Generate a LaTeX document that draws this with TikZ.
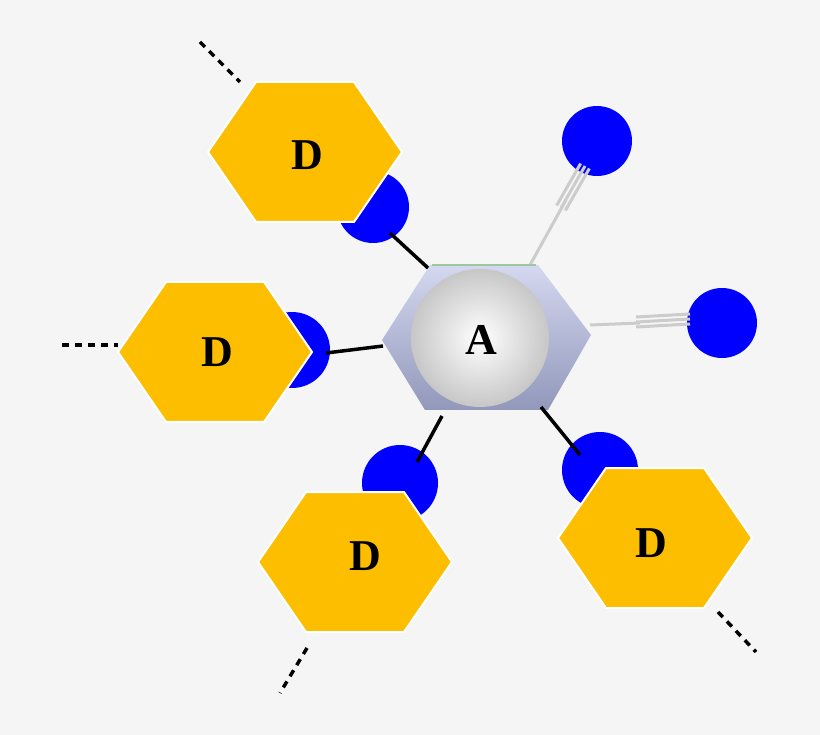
\documentclass[tikz,border=0pt]{standalone}
\usepackage{fontspec}
\setmainfont{Liberation Serif}
\usetikzlibrary{calc}
\definecolor{gold}{HTML}{FDBE00}
\definecolor{bg}{HTML}{F5F5F5}
\definecolor{hexA}{HTML}{A8B0E0}
\tikzset{
 ball/.style={circle,fill=blue,inner sep=0pt},
 bond/.style={line width=3.5pt,black},
 dbond/.style={line width=3.5pt,black,dash pattern=on 7pt off 6pt},
 gbond/.style={line width=3pt,black!20},
 lbl/.style={font=\fontsize{44}{44}\selectfont\bfseries},
}
\newcommand{\dhex}[2]{% center x,y
 \fill[gold,draw=white,line width=2pt] ($(#1,#2)+(-97,0)$) -- ($(#1,#2)+(-49,-70)$) -- ($(#1,#2)+(49,-70)$) -- ($(#1,#2)+(97,0)$) -- ($(#1,#2)+(49,70)$) -- ($(#1,#2)+(-49,70)$) -- cycle;}
\begin{document}
\begin{tikzpicture}[x=1pt,y=-1pt]
\fill[bg] (0,0) rectangle (820,735);
\useasboundingbox (0,0) rectangle (820,735);
% dashed ends
\coordinate (e1a) at (200,42); \coordinate (e1b) at (240,82);
\coordinate (e2a) at (62,345); \coordinate (e2b) at (118,345);
\coordinate (e3a) at (307,648); \coordinate (e3b) at (280,693);
\coordinate (e4a) at (718,612); \coordinate (e4b) at (756,652);
\draw[dbond] (e1a)--(e1b); \draw[dbond] (e2a)--(e2b);
\draw[dbond] (e3a)--(e3b); \draw[dbond] (e4a)--(e4b);
% gray bonds
\node[ball,minimum size=70pt] (b1) at (597,141) {};
\node[ball,minimum size=70pt] (b2) at (722,323) {};
\draw[gbond] (530,265) -- (566,200);
\draw[gbond] (590,325) -- (640,323);
\foreach \o in {-5,0,5}{
 \draw[gbond] ($(561,208)+(\o*0.87,\o*0.5)$) -- ($(585,166)+(\o*0.87,\o*0.5)$);
 \draw[gbond] ($(636,322)+(0,\o)$) -- ($(690,319)+(0,\o)$);}
% blue balls
\node[ball,minimum size=72pt] (b3) at (373,207) {};
\node[ball,minimum size=76pt] (b4) at (292,350) {};
\node[ball,minimum size=76pt] (b5) at (400,483) {};
\node[ball,minimum size=76pt] (b6) at (600,470) {};
% central hexagon
\shade[top color=hexA!50!white,bottom color=hexA!80!black!90]
 (382,340) -- (430,265) -- (538,265) -- (591,335) -- (548,410) -- (425,410) -- cycle;
\draw[line width=2pt,green!30!gray!60] (432,265) -- (536,265);
\shade[inner color=white,outer color=black!22] (480,338) circle (69);
\node[lbl] (A) at (481,340) {A};
% black bonds
\coordinate (a1) at (428,268); \coordinate (a2) at (383,346);
\coordinate (a3) at (442,416); \coordinate (a4) at (541,407);
\coordinate (c1) at (390,233); \coordinate (c2) at (326,353);
\coordinate (c3) at (417,462); \coordinate (c4) at (580,455);
\draw[bond] (a1)--(c1); \draw[bond] (a2)--(c2);
\draw[bond] (a3)--(c3); \draw[bond] (a4)--(c4);
% D hexagons
\dhex{305}{152} \node[lbl] (D1) at (307,155) {D};
\dhex{215}{352} \node[lbl] (D2) at (217,352) {D};
\dhex{355}{562} \node[lbl] (D3) at (365,556) {D};
\dhex{655}{538} \node[lbl] (D4) at (651,543) {D};
\end{tikzpicture}
\end{document}
